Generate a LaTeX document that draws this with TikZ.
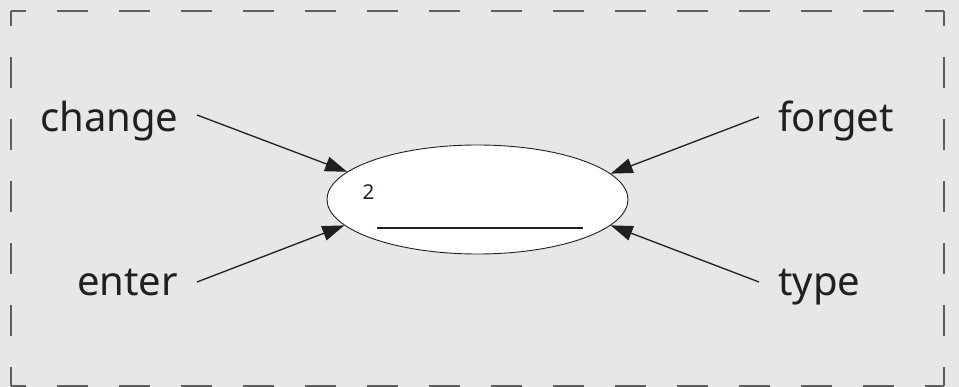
\documentclass[tikz,border=0pt]{standalone}
\usepackage{fontspec}
\setmainfont{Noto Sans}
\usetikzlibrary{shapes.geometric,arrows.meta}
\definecolor{bg}{RGB}{230,231,233}
\definecolor{ink}{RGB}{35,31,32}
\definecolor{frame}{RGB}{95,95,95}
\begin{document}
\begin{tikzpicture}[x=1pt,y=-1pt,
  lbl/.style={inner sep=0pt, text=ink, font=\fontsize{40}{48}\selectfont},
  arr/.style={draw=ink, line width=1.3pt, -{Triangle[length=22pt,width=15pt]}},
  side/.style={draw=frame, line width=1.5pt, dash pattern=on 31pt off 31pt, dash phase=16pt}]
\fill[bg] (0,0) rectangle (959,387);
\useasboundingbox (0,0) rectangle (959,387);
\draw[side] (11,11) -- (944,11);
\draw[side] (11,11) -- (11,386);
\draw[side] (944,11) -- (944,386);
\draw[side] (11,386) -- (944,386);
\node[ellipse, draw=ink, line width=0.9pt, fill=white, minimum width=301pt, minimum height=109pt, inner sep=0pt] (ell) at (477.5,199.5) {};
\node[inner sep=0pt, anchor=base west, text=ink, font=\fontsize{20.5}{22}\selectfont] (num) at (362.5,200) {2};
\draw[ink, line width=2pt] (377,228) -- (583,228);
\node[lbl, anchor=base west] (change) at (40,132) {change};
\node[lbl, anchor=base west] (enter) at (77,296) {enter};
\node[lbl, anchor=base west] (forget) at (778,132) {forget};
\node[lbl, anchor=base west] (type) at (778,296) {type};
\coordinate (cs) at (197,115);
\coordinate (es) at (197,282);
\coordinate (fs) at (759,117);
\coordinate (ts) at (759,282);
\draw[arr] (cs) -- (ell.168.5);
\draw[arr] (es) -- (ell.191);
\draw[arr] (fs) -- (ell.11.1);
\draw[arr] (ts) -- (ell.349.3);
\end{tikzpicture}
\end{document}
